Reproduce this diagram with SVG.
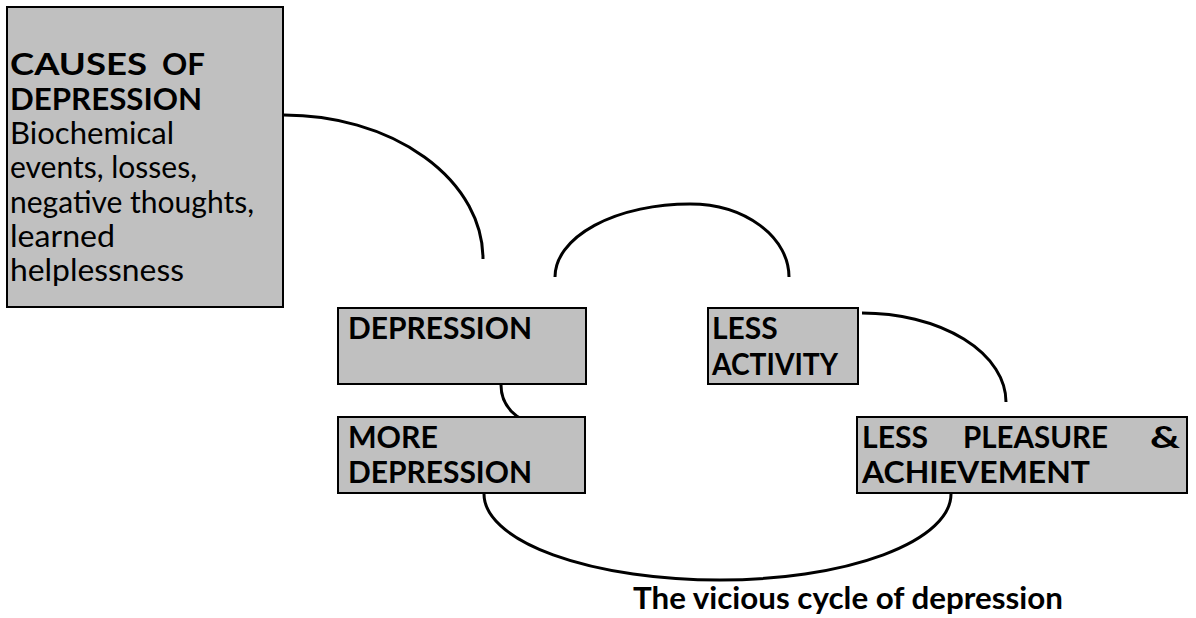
<svg xmlns="http://www.w3.org/2000/svg" width="1196" height="618" viewBox="0 0 1196 618">
<style>
.box{fill:#c0c0c0;stroke:#000;stroke-width:2}
.t{font-family:Lato,"Open Sans","Liberation Sans",sans-serif;font-size:30px;fill:#000}
.h{font-weight:bold}
.c{fill:none;stroke:#000;stroke-width:3}
</style>
<rect width="1196" height="618" fill="#fff"/>
<g id="connectors">
<path class="c" d="M284 115 A199 144 0 0 1 483 259"/>
<path class="c" d="M555 277 A135 73 0 0 1 690 204 A99 73 0 0 1 789 277"/>
<path class="c" d="M862 313 A144 89 0 0 1 1006 402"/>
<path class="c" d="M501 385 A35 37 0 0 0 536 422"/>
<path class="c" d="M484 494 A236 86 0 0 0 720 580 A231 86 0 0 0 951 494"/>
</g>
<g id="causes">
<rect class="box" x="7" y="7" width="276" height="300"/>
<text class="t h" x="10" y="75" textLength="137" lengthAdjust="spacingAndGlyphs">CAUSES</text>
<text class="t h" x="162" y="75" textLength="43" lengthAdjust="spacingAndGlyphs">OF</text>
<text class="t h" x="10" y="110" textLength="192" lengthAdjust="spacingAndGlyphs">DEPRESSION</text>
<text class="t" x="10" y="144" textLength="164" lengthAdjust="spacingAndGlyphs">Biochemical</text>
<text class="t" x="10" y="178" textLength="187" lengthAdjust="spacingAndGlyphs">events, losses,</text>
<text class="t" x="10" y="213" textLength="244" lengthAdjust="spacingAndGlyphs">negative thoughts,</text>
<text class="t" x="10" y="247" textLength="105" lengthAdjust="spacingAndGlyphs">learned</text>
<text class="t" x="10" y="281" textLength="174" lengthAdjust="spacingAndGlyphs">helplessness</text>
</g>
<g id="depression">
<rect class="box" x="338" y="308" width="248" height="76"/>
<text class="t h" x="348" y="339" textLength="184" lengthAdjust="spacingAndGlyphs">DEPRESSION</text>
</g>
<g id="more-depression">
<rect class="box" x="338" y="417" width="247" height="76"/>
<text class="t h" x="348" y="448" textLength="90" lengthAdjust="spacingAndGlyphs">MORE</text>
<text class="t h" x="348" y="483" textLength="184" lengthAdjust="spacingAndGlyphs">DEPRESSION</text>
</g>
<g id="less-activity">
<rect class="box" x="708" y="308" width="150" height="76"/>
<text class="t h" x="712" y="339">LESS</text>
<text class="t h" x="712" y="375" textLength="126" lengthAdjust="spacingAndGlyphs">ACTIVITY</text>
</g>
<g id="less-pleasure">
<rect class="box" x="857" y="417" width="330" height="76"/>
<text class="t h" x="862" y="448" textLength="66" lengthAdjust="spacingAndGlyphs">LESS</text>
<text class="t h" x="963" y="448" textLength="145" lengthAdjust="spacingAndGlyphs">PLEASURE</text>
<text class="t h" x="1150" y="448" textLength="30" lengthAdjust="spacingAndGlyphs">&amp;</text>
<text class="t h" x="862" y="483" textLength="228" lengthAdjust="spacingAndGlyphs">ACHIEVEMENT</text>
</g>
<text class="t h" x="633" y="609" textLength="430" lengthAdjust="spacingAndGlyphs">The vicious cycle of depression</text>
</svg>
